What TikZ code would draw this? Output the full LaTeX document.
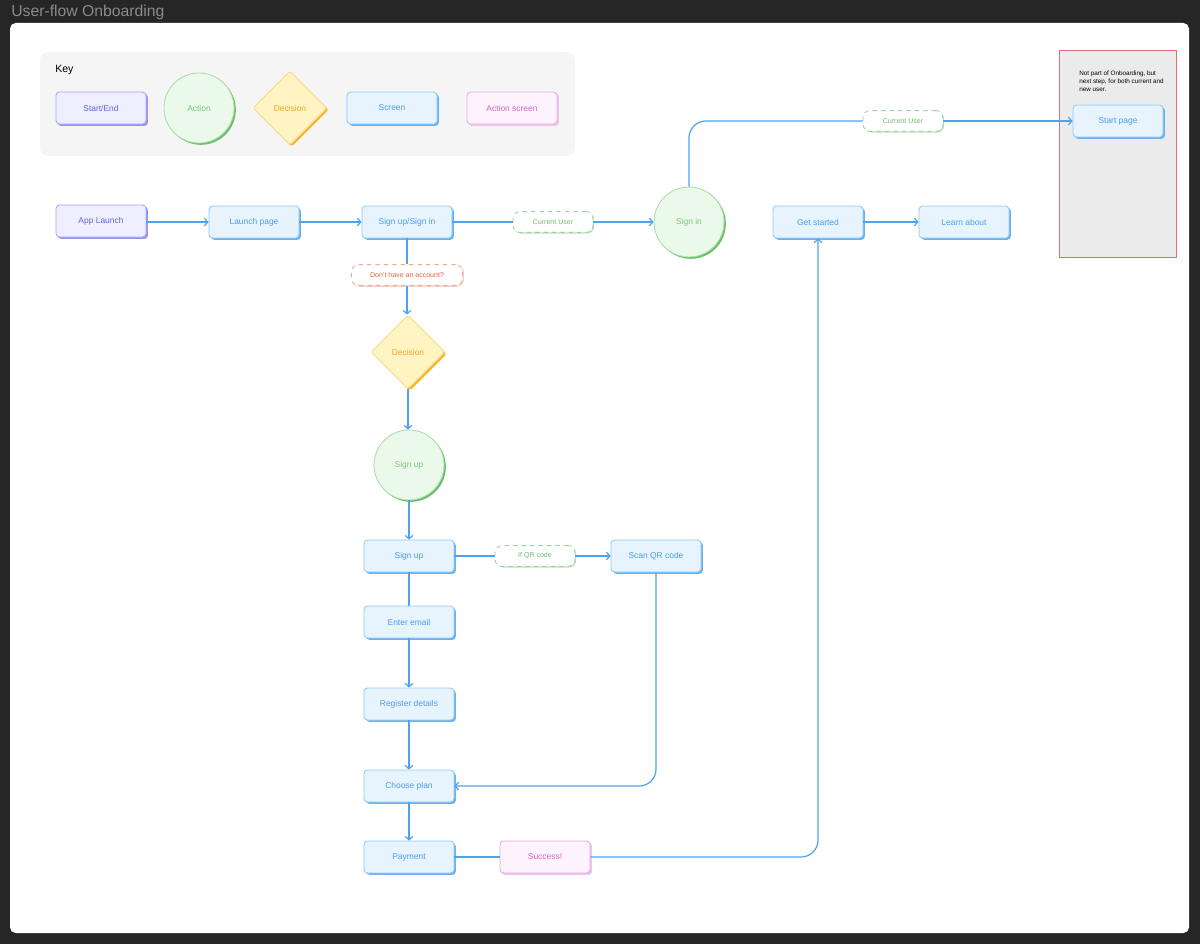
\documentclass[tikz,border=0pt]{standalone}
\usepackage{fontspec}
\setmainfont{Liberation Sans}
\usetikzlibrary{shapes.geometric,shadows,arrows.meta}
\definecolor{bgdark}{HTML}{262626}
\definecolor{titlegray}{HTML}{8A8A8A}
\definecolor{keybg}{HTML}{F5F5F5}
\definecolor{flow}{HTML}{4DA3F0}
\definecolor{scrfill}{HTML}{E7F3FD}
\definecolor{scrdraw}{HTML}{93CAF6}
\definecolor{scrshad}{HTML}{66B2F0}
\definecolor{scrtext}{HTML}{4A9FEA}
\definecolor{sefill}{HTML}{EEEEFE}
\definecolor{sedraw}{HTML}{A8A8F6}
\definecolor{seshad}{HTML}{9494EE}
\definecolor{setext}{HTML}{6464E0}
\definecolor{acfill}{HTML}{EAF9EA}
\definecolor{acdraw}{HTML}{ABDCAB}
\definecolor{acshad}{HTML}{6CBF6C}
\definecolor{actext}{HTML}{7CC47C}
\definecolor{defill}{HTML}{FFF4C2}
\definecolor{dedraw}{HTML}{FCD98C}
\definecolor{deshad}{HTML}{F6B92B}
\definecolor{detext}{HTML}{F5A623}
\definecolor{asfill}{HTML}{FDF3FC}
\definecolor{asdraw}{HTML}{EAA8E4}
\definecolor{asshad}{HTML}{EDC6EA}
\definecolor{astext}{HTML}{D566CC}
\definecolor{gldraw}{HTML}{9BD39B}
\definecolor{gltext}{HTML}{6DBB6D}
\definecolor{rldraw}{HTML}{F5A898}
\definecolor{rltext}{HTML}{F0603F}
\definecolor{notebg}{HTML}{EBEBEB}
\definecolor{notered}{HTML}{E07070}
\tikzset{
  x=0.025cm, y=-0.025cm,
  base/.style={font=\fontsize{6}{7}\selectfont, inner sep=0pt, line width=0.6pt},
  screen/.style={base, rectangle, rounded corners=2.5pt, minimum width=2.25cm, minimum height=0.8cm,
    fill=scrfill, draw=scrdraw, text=scrtext,
    drop shadow={shadow xshift=1.3pt, shadow yshift=-1.3pt, fill=scrshad, opacity=1}},
  startend/.style={screen, fill=sefill, draw=sedraw, text=setext,
    drop shadow={shadow xshift=1.3pt, shadow yshift=-1.3pt, fill=seshad, opacity=1}},
  actscreen/.style={screen, fill=asfill, draw=asdraw, text=astext,
    drop shadow={shadow xshift=1.3pt, shadow yshift=-1.3pt, fill=asshad, opacity=1}},
  action/.style={base, circle, minimum size=1.75cm, fill=acfill, draw=acdraw, text=actext,
    drop shadow={shadow xshift=1.3pt, shadow yshift=-1.3pt, fill=acshad, opacity=1}},
  decision/.style={base, diamond, minimum width=1.85cm, minimum height=1.85cm, rounded corners=2pt,
    fill=defill, draw=dedraw, text=detext,
    drop shadow={shadow xshift=1.3pt, shadow yshift=-1.3pt, fill=deshad, opacity=1}},
  glabel/.style={font=\fontsize{5}{6}\selectfont, inner sep=0pt, rectangle, rounded corners=5pt,
    minimum width=2cm, minimum height=0.52cm, fill=white, draw=gldraw, dashed, line width=0.6pt, text=gltext,
    drop shadow={shadow xshift=0.8pt, shadow yshift=-0.8pt, fill=gldraw!70, opacity=1}},
  rlabel/.style={glabel, minimum width=2.78cm, draw=rldraw, text=rltext,
    drop shadow={shadow xshift=0.8pt, shadow yshift=-0.8pt, fill=rldraw!60, opacity=1}},
  conn/.style={draw=flow, line width=0.85pt},
  arr/.style={conn, -{Straight Barb[length=2.4pt,width=5.5pt]}},
}
\begin{document}
\begin{tikzpicture}
\useasboundingbox (0,0) rectangle (1200,944);
\fill[bgdark] (0,0) rectangle (1200,944);
\node[anchor=west, text=titlegray, font=\fontsize{11.2}{13}\selectfont, inner sep=0pt] (title) at (11,12) {User-flow Onboarding};
\fill[white, rounded corners=4pt] (10,23) rectangle (1189,933);
% key
\fill[keybg, rounded corners=6pt] (40,52) rectangle (575,156);
\node[anchor=west, font=\fontsize{7.5}{9}\selectfont, inner sep=0pt] (keylbl) at (55,70) {Key};
\node[startend] (k1) at (101,108) {Start/End};
\node[action] (k2) at (199,108) {Action};
\node[decision] (k3) at (290,108) {Decision};
\node[screen] (k4) at (392,108) {Screen};
\node[actscreen] (k5) at (512,108) {Action screen};
% note box
\draw[notered, fill=notebg, line width=0.6pt] (1059,50) rectangle (1176,257);
\node[anchor=north west, align=left, font=\fontsize{4.5}{5.6}\selectfont, inner sep=0pt] (note) at (1079,71)
  {Not part of Onboarding, but\\next step, for both current and\\new user.};
\node[screen] (start) at (1118,121) {Start page};
% main flow
\node[startend] (app) at (101,221) {App Launch};
\node[screen] (launch) at (254,222) {Launch page};
\node[screen] (sus) at (407,222) {Sign up/Sign in};
\node[glabel] (cu1) at (553,222) {Current User};
\node[action] (signin) at (689,222) {Sign in};
\node[glabel] (cu2) at (903,121) {Current User};
\node[screen] (getst) at (818,222) {Get started};
\node[screen] (learn) at (964,222) {Learn about};
\node[rlabel] (dha) at (407,275) {Don't have an account?};
\node[decision] (dec) at (408,352) {Decision};
\node[action] (sucirc) at (409,465) {Sign up};
\node[screen] (signup) at (409,556) {Sign up};
\node[glabel] (qr) at (535,556) {If QR code};
\node[screen] (scan) at (656,556) {Scan QR code};
\node[screen] (email) at (409,622) {Enter email};
\node[screen] (reg) at (409,704) {Register details};
\node[screen] (plan) at (409,786) {Choose plan};
\node[screen] (pay) at (409,857) {Payment};
\node[actscreen] (succ) at (545,857) {Success!};
\coordinate (c1) at (689,121);
\coordinate (c2) at (656,786);
\coordinate (c3) at (818,857);
% connectors
\draw[arr] (app.east |- launch) -- (launch);
\draw[arr] (launch) -- (sus);
\draw[conn] (sus) -- (cu1);
\draw[arr] (cu1) -- (signin);
\draw[conn, rounded corners=12pt] (signin.north) -- (c1) -- (cu2.west);
\draw[arr] (cu2) -- (start);
\draw[conn] (sus) -- (dha);
\draw[arr] (dha.south) -- (dha.south |- dec.north);
\draw[arr] (dec.south) -- (dec.south |- sucirc.north);
\draw[arr] (sucirc) -- (signup);
\draw[conn] (signup) -- (qr);
\draw[arr] (qr) -- (scan);
\draw[conn] (signup) -- (email);
\draw[arr] (email) -- (reg);
\draw[arr] (reg) -- (plan);
\draw[arr] (plan) -- (pay);
\draw[arr, rounded corners=12pt] (scan.south) -- (c2) -- (plan.east);
\draw[conn] (pay) -- (succ);
\draw[arr, rounded corners=12pt] (succ.east) -- (c3) -- (getst.south);
\draw[arr] (getst) -- (learn);
\end{tikzpicture}
\end{document}
